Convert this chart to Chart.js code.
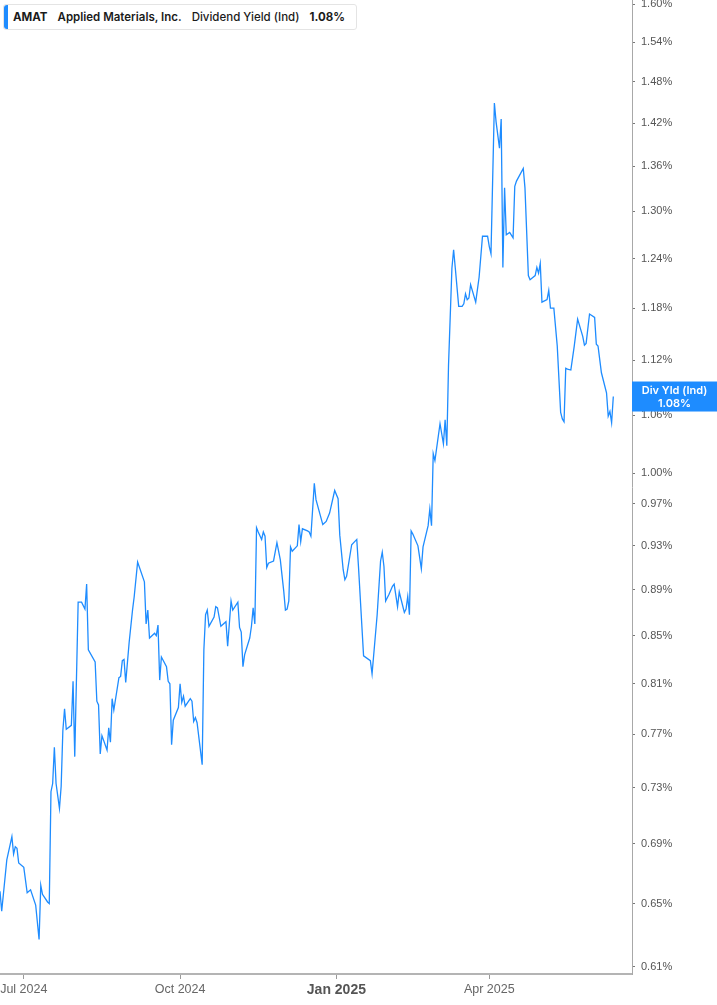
<!DOCTYPE html>
<html>
<head>
<meta charset="utf-8">
<script src="https://cdn.jsdelivr.net/npm/chart.js@4.4.1/dist/chart.umd.min.js"></script>
<style>
  html, body { margin: 0; padding: 0; background: #fff; }
  #wrap { position: relative; width: 717px; height: 1005px; }
  #chart { display: block; }
  .legend {
    position: absolute; left: 3px; top: 4px; height: 26px; width: 354px;
    box-sizing: border-box; border: 1px solid #e4e4e4; border-radius: 3px;
    background: #fff; font-family: Inter, "Noto Sans", sans-serif; font-size: 11.5px;
    color: #1b1b1b; display: flex; align-items: center; white-space: nowrap;
  }
  .legend .bar { position: absolute; left: 0; top: 0; bottom: 0; width: 4px; background: #1e8cff; border-radius: 3px 0 0 3px; }
  .legend span { margin-left: 10px; }
  .legend .sym { margin-left: 9px; font-weight: 700; }
  .legend .name { font-weight: 600; }
  .legend .metric { font-weight: 500; }
  .legend .val { font-weight: 700; }
</style>
</head>
<body>
<div id="wrap">
  <canvas id="chart" width="717" height="1005"></canvas>
  <div class="legend">
    <div class="bar"></div>
    <span class="sym">AMAT</span>
    <span class="name">Applied Materials, Inc.</span>
    <span class="metric">Dividend Yield (Ind)</span>
    <span class="val">1.08%</span>
  </div>
</div>
<script>
// Dividend yield (indicated), %
const DATES = [
  '2024-06-17','2024-06-18','2024-06-21','2024-06-24','2024-06-25','2024-06-26','2024-06-27','2024-06-28',
  '2024-07-01','2024-07-03','2024-07-05','2024-07-08','2024-07-10','2024-07-11','2024-07-12','2024-07-15',
  '2024-07-16','2024-07-17','2024-07-18','2024-07-19','2024-07-20','2024-07-22','2024-07-23','2024-07-24',
  '2024-07-25','2024-07-26','2024-07-29','2024-07-30','2024-07-31','2024-08-02','2024-08-04','2024-08-06',
  '2024-08-07','2024-08-08','2024-08-12','2024-08-13','2024-08-14','2024-08-15','2024-08-16','2024-08-19',
  '2024-08-20','2024-08-21','2024-08-22','2024-08-23','2024-08-26','2024-08-27','2024-08-28','2024-08-29',
  '2024-08-30','2024-09-01','2024-09-03','2024-09-04','2024-09-06','2024-09-10','2024-09-11','2024-09-12',
  '2024-09-13','2024-09-16','2024-09-17','2024-09-18','2024-09-19','2024-09-20','2024-09-23','2024-09-24',
  '2024-09-25','2024-09-26','2024-09-27','2024-09-30','2024-10-01','2024-10-02','2024-10-03','2024-10-04',
  '2024-10-07','2024-10-08','2024-10-09','2024-10-10','2024-10-11','2024-10-14','2024-10-15','2024-10-16',
  '2024-10-17','2024-10-18','2024-10-21','2024-10-22','2024-10-23','2024-10-25','2024-10-28','2024-10-29',
  '2024-10-31','2024-11-01','2024-11-04','2024-11-05','2024-11-06','2024-11-07','2024-11-08','2024-11-11',
  '2024-11-12','2024-11-13','2024-11-14','2024-11-15','2024-11-16','2024-11-18','2024-11-19','2024-11-20',
  '2024-11-21','2024-11-22','2024-11-25','2024-11-27','2024-11-29','2024-12-01','2024-12-02','2024-12-03',
  '2024-12-04','2024-12-05','2024-12-06','2024-12-09','2024-12-10','2024-12-11','2024-12-12','2024-12-15',
  '2024-12-16','2024-12-17','2024-12-19','2024-12-20','2024-12-24','2024-12-26','2024-12-28','2024-12-31',
  '2025-01-02','2025-01-03','2025-01-05','2025-01-06','2025-01-07','2025-01-10','2025-01-13','2025-01-14',
  '2025-01-17','2025-01-21','2025-01-22','2025-01-25','2025-01-27','2025-01-28','2025-01-29','2025-01-30',
  '2025-02-01','2025-02-03','2025-02-04','2025-02-06','2025-02-07','2025-02-10','2025-02-11','2025-02-12',
  '2025-02-13','2025-02-14','2025-02-15','2025-02-18','2025-02-20','2025-02-21','2025-02-24','2025-02-25',
  '2025-02-26','2025-02-27','2025-02-28','2025-03-03','2025-03-05','2025-03-06','2025-03-07','2025-03-08',
  '2025-03-10','2025-03-11','2025-03-12','2025-03-14','2025-03-16','2025-03-17','2025-03-18','2025-03-19',
  '2025-03-20','2025-03-21','2025-03-24','2025-03-26','2025-03-28','2025-03-31','2025-04-01','2025-04-02',
  '2025-04-04','2025-04-05','2025-04-07','2025-04-08','2025-04-09','2025-04-10','2025-04-11','2025-04-13',
  '2025-04-15','2025-04-16','2025-04-17','2025-04-21','2025-04-22','2025-04-24','2025-04-25','2025-04-28',
  '2025-04-29','2025-04-30','2025-05-01','2025-05-02','2025-05-05','2025-05-06','2025-05-07','2025-05-09',
  '2025-05-11','2025-05-13','2025-05-14','2025-05-15','2025-05-16','2025-05-17','2025-05-19','2025-05-21',
  '2025-05-23','2025-05-26','2025-05-27','2025-05-28','2025-05-30','2025-06-02','2025-06-03','2025-06-04',
  '2025-06-06','2025-06-09','2025-06-10','2025-06-11','2025-06-12','2025-06-13'
];

const YIELDS = [
  0.658,0.645,0.679,0.695,0.683,0.688,0.687,0.677,
  0.674,0.657,0.659,0.649,0.627,0.662,0.656,0.651,
  0.650,0.727,0.733,0.760,0.733,0.715,0.731,0.773,
  0.790,0.774,0.777,0.812,0.753,0.879,0.879,0.873,
  0.895,0.838,0.828,0.796,0.793,0.755,0.769,0.758,
  0.775,0.764,0.798,0.789,0.815,0.816,0.829,0.830,
  0.811,0.844,0.872,0.884,0.915,0.897,0.860,0.872,
  0.848,0.852,0.850,0.859,0.813,0.832,0.824,0.812,
  0.810,0.762,0.781,0.791,0.810,0.795,0.800,0.792,
  0.798,0.796,0.780,0.783,0.779,0.747,0.838,0.868,
  0.872,0.858,0.866,0.875,0.874,0.858,0.862,0.841,
  0.880,0.872,0.879,0.857,0.853,0.824,0.834,0.848,
  0.858,0.874,0.860,0.947,0.943,0.936,0.943,0.939,
  0.910,0.914,0.916,0.933,0.917,0.889,0.872,0.873,
  0.880,0.929,0.925,0.930,0.950,0.934,0.946,0.944,
  0.943,0.939,0.990,0.974,0.950,0.953,0.961,0.983,
  0.975,0.940,0.908,0.899,0.902,0.931,0.936,0.911,
  0.833,0.829,0.818,0.868,0.916,0.924,0.911,0.880,
  0.886,0.893,0.895,0.875,0.888,0.870,0.873,0.884,
  0.868,0.944,0.941,0.930,0.909,0.929,0.949,0.965,
  0.949,1.020,1.013,1.051,1.030,1.055,1.028,1.114,
  1.228,1.251,1.228,1.182,1.182,1.185,1.197,1.190,
  1.192,1.208,1.187,1.217,1.268,1.268,1.255,1.246,
  1.449,1.422,1.385,1.426,1.229,1.331,1.270,1.273,
  1.266,1.333,1.340,1.357,1.331,1.219,1.214,1.219,
  1.229,1.222,1.234,1.187,1.190,1.201,1.180,1.180,
  1.136,1.063,1.056,1.053,1.111,1.110,1.109,1.136,
  1.167,1.147,1.137,1.139,1.173,1.169,1.138,1.136,
  1.106,1.084,1.059,1.064,1.052,1.080
];

const X_TICK_DATES = ['2024-07-01', '2024-10-01', '2025-01-01', '2025-04-01'];
const X_TICK_LABELS = ['Jul 2024', 'Oct 2024', 'Jan 2025', 'Apr 2025'];
const Y_TICKS = [0.61, 0.65, 0.69, 0.73, 0.77, 0.81, 0.85, 0.89, 0.93, 0.97, 1.00,
                 1.06, 1.12, 1.18, 1.24, 1.30, 1.36, 1.42, 1.48, 1.54, 1.60];

const LINE_COLOR = '#1e8cff';
const toTime = s => Date.parse(s);
const xTickTimes = X_TICK_DATES.map(toTime);
const yearTick = toTime('2025-01-01');

const lastValueTag = {
    id: 'lastValueTag',
    afterDraw(chart) {
        const { ctx, chartArea, scales } = chart;
        const last = YIELDS[YIELDS.length - 1];
        const y = scales.y.getPixelForValue(last);
        const x0 = chartArea.right;
        const w = chart.width - x0;
        ctx.save();
        ctx.fillStyle = LINE_COLOR;
        ctx.fillRect(x0, y - 15, w, 30);
        ctx.fillStyle = '#fff';
        ctx.textAlign = 'center';
        ctx.textBaseline = 'middle';
        ctx.font = '600 11px Inter, "Liberation Sans", sans-serif';
        ctx.fillText('Div Yld (Ind)', x0 + w / 2, y - 6);
        ctx.fillText(last.toFixed(2) + '%', x0 + w / 2, y + 7);
        ctx.restore();
    }
};

new Chart(document.getElementById('chart').getContext('2d'), {
    type: 'line',
    data: {
        datasets: [{
            label: 'Div Yld (Ind)',
            data: DATES.map((d, i) => ({ x: toTime(d), y: YIELDS[i] })),
            borderColor: LINE_COLOR,
            borderWidth: 1.3,
            pointRadius: 0,
            tension: 0,
            fill: false,
        }]
    },
    options: {
        responsive: false,
        animation: false,
        layout: { padding: 0 },
        plugins: { legend: { display: false }, tooltip: { enabled: false } },
        scales: {
            x: {
                type: 'linear',
                bounds: 'data',
                min: toTime('2024-06-17'),
                max: toTime('2025-06-24'),
                afterBuildTicks: scale => { scale.ticks = xTickTimes.map(v => ({ value: v })); },
                afterFit: scale => { scale.height = 31; scale.paddingLeft = 0; scale.paddingRight = 0; },
                grid: { drawOnChartArea: false, drawTicks: true, tickLength: 5, tickWidth: 1, tickColor: '#9a9a9a' },
                border: { display: true, color: '#b4b4b4', width: 2 },
                ticks: {
                    autoSkip: false,
                    maxRotation: 0,
                    padding: 3,
                    color: ctx => ctx.tick && ctx.tick.value === yearTick ? '#555' : '#666',
                    font: ctx => ctx.tick && ctx.tick.value === yearTick
                        ? { family: '"Liberation Sans Narrow", "Arial Narrow", sans-serif', size: 14, weight: 'bold' }
                        : { family: '"Liberation Sans Narrow", "Arial Narrow", sans-serif', size: 12.5 },
                    callback: v => X_TICK_LABELS[xTickTimes.indexOf(v)] || ''
                }
            },
            y: {
                type: 'logarithmic',
                position: 'right',
                bounds: 'data',
                min: 0.6057,
                max: 1.6065,
                afterBuildTicks: scale => { scale.ticks = Y_TICKS.map(v => ({ value: v })); },
                afterFit: scale => { scale.width = 85; scale.paddingTop = 0; scale.paddingBottom = 0; },
                grid: { drawOnChartArea: false, drawTicks: true, tickLength: 3, tickWidth: 1, tickColor: '#777' },
                border: { display: true, color: '#a8a8a8', width: 1 },
                ticks: {
                    autoSkip: false,
                    padding: 6,
                    color: '#555',
                    font: { family: '"Liberation Sans", Arial, sans-serif', size: 11 },
                    callback: v => Number(v).toFixed(2) + '%'
                }
            }
        }
    },
    plugins: [lastValueTag]
});
</script>
</body>
</html>
